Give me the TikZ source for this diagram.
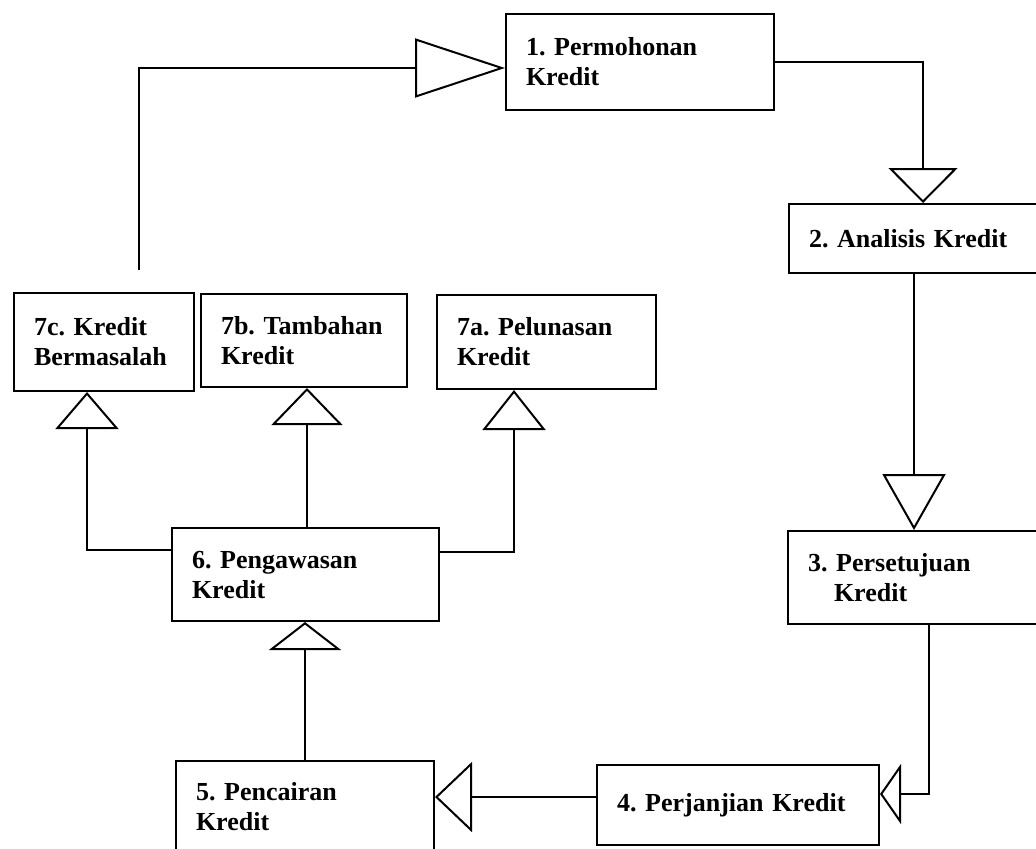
\documentclass[tikz,border=0pt]{standalone}
\usepackage{fontspec}
\setmainfont{Liberation Serif}
\usetikzlibrary{arrows.meta}
\tikzset{tri/.style 2 args={-{Triangle[open,length=#1,width=#2]}}}
\frenchspacing

\begin{document}
\begin{tikzpicture}[x=0.5pt,y=-0.5pt,line width=1pt,font=\fontsize{13}{15}\selectfont\bfseries]

\tikzstyle{box}=[draw,anchor=north west,align=left,inner xsep=10pt,inner ysep=0pt]

\useasboundingbox (0,0) rectangle (1036,848);
\clip (0,0) rectangle (1036,848);

 \node[box,text width=114pt,minimum height=48pt] (b1) at (505,13) {1. Permohonan\\Kredit};
 \node[box,text width=114pt,minimum height=34.5pt] (b2) at (788,203) {2. Analisis Kredit};
 \node[box,text width=106pt,minimum height=46.5pt] (b3) at (787,530) {3. Persetujuan\\\hspace*{1em}Kredit};
 \node[box,text width=121pt,minimum height=40pt] (b4) at (596,764) {4. Perjanjian Kredit};
 \node[box,text width=109pt,minimum height=46pt] (b5) at (175,760) {5. Pencairan\\Kredit};
 \node[box,text width=113.5pt,minimum height=46.5pt] (b6) at (171,527) {6. Pengawasan\\Kredit};
 \node[box,text width=89.5pt,minimum height=47pt] (b7a) at (436,294) {7a. Pelunasan\\Kredit};
 \node[box,text width=83pt,minimum height=46.5pt] (b7b) at (200,293) {7b. Tambahan\\Kredit};
 \node[box,text width=70pt,minimum height=49pt] (b7c) at (13,292) {7c. Kredit\\Bermasalah};

 \coordinate (back) at (139,270);

 \draw[tri={17.5pt}{34.5pt}] (b1.east) -| (b2.north);
 \draw[tri={28pt}{31.5pt}] (b2.south -| b3.north) -- (b3.north);
 \draw[tri={10.5pt}{30pt}] ([xshift=7.5pt]b3.south) |- ([yshift=5.5pt]b4.east);
 \draw[tri={18.5pt}{35pt}] ([yshift=4pt]b4.west) -- ([yshift=4pt]b4.west -| b5.east);
 \draw[tri={14pt}{36pt}] (b5.north) -- (b5.north |- b6.south);
 \draw[tri={20pt}{31.5pt}] ([yshift=11.25pt]b6.east) -| ([xshift=-16.25pt]b7a.south);
 \draw[tri={18.5pt}{35.5pt}] ([xshift=0.75pt]b6.north) -- ([xshift=0.75pt]b6.north |- b7b.south);
 \draw[tri={18.5pt}{31.5pt}] ([yshift=12.25pt]b6.west) -| ([xshift=-8.5pt]b7c.south);
 \draw[tri={45pt}{29.5pt}] (back) |- ([yshift=-3pt]b1.west);
\end{tikzpicture}
\end{document}
